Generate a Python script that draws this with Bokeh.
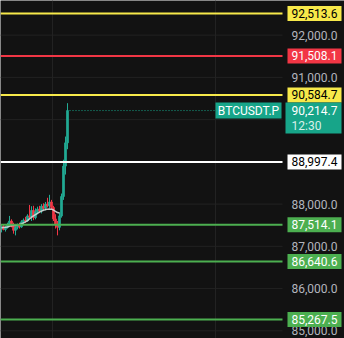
from bokeh.plotting import figure
from bokeh.models import Range1d, ColumnDataSource
from bokeh.core.properties import value
from bokeh.embed import file_html
from bokeh.resources import INLINE

# ---- data ----
opens  = [87420, 87470, 87400, 87450, 87520, 87600, 87480, 87380, 87450, 87500,
          87460, 87580, 87620, 87600, 87720, 87700, 87850, 87680, 87820, 87880,
          87840, 87950, 87900, 88000, 87960, 88050, 87920, 87650, 87520, 87450,
          87720, 88180, 88900, 89450]
highs  = [87500, 87520, 87480, 87560, 87720, 87640, 87560, 87500, 87540, 87560,
          87620, 87660, 87700, 87760, 87980, 87950, 87960, 87900, 87940, 87960,
          88000, 88020, 88050, 88150, 88220, 88100, 87960, 87760, 87600, 87800,
          88250, 89050, 89600, 90390]
lows   = [87330, 87380, 87350, 87420, 87480, 87450, 87300, 87260, 87400, 87420,
          87440, 87520, 87560, 87580, 87660, 87600, 87620, 87640, 87760, 87800,
          87780, 87860, 87850, 87920, 87900, 87880, 87600, 87420, 87260, 87380,
          87680, 88100, 88700, 89300]
closes = [87470, 87400, 87450, 87520, 87600, 87480, 87380, 87450, 87500, 87460,
          87580, 87620, 87600, 87720, 87700, 87850, 87680, 87820, 87880, 87840,
          87950, 87900, 88000, 87960, 88050, 87920, 87650, 87520, 87450, 87720,
          88180, 88900, 89450, 90214.7]
ma_vals = [87440, 87445, 87450, 87460, 87475, 87490, 87495, 87500, 87510, 87520,
           87535, 87555, 87580, 87610, 87650, 87690, 87720, 87750, 87780, 87810,
           87835, 87855, 87870, 87880, 87885, 87880, 87860, 87830, 87800, 87790]

levels      = [92513.6, 91508.1, 90584.7, 88997.4, 87514.1, 86640.6, 85267.5]
level_fill  = ["#f7e94a", "#f23645", "#f7e94a", "#ffffff", "#4caf50", "#4caf50", "#4caf50"]
level_text  = ["#000000", "#ffffff", "#000000", "#000000", "#ffffff", "#ffffff", "#ffffff"]
tick_values = [92000, 91000, 90000, 89000, 88000, 87000, 86000, 85000]
last_price  = 90214.7
symbol      = "BTCUSDT.P"
countdown   = "12:30"

# ---- layout constants ----
W, H = 344, 338
YMIN, YMAX = 84818, 92821
PPX = (YMAX - YMIN) / H      # price per pixel
X_END = 141                  # plot area end (units, 2 px each)
TAG_L, TAG_R = 143.5, 170.5
TXT_X = 168.5
BG = "#121212"
UP, DOWN = "#22ab94", "#f23645"
TEAL = "#17a589"
FONT = value("Roboto")

p = figure(width=W, height=H, output_backend="svg", toolbar_location=None,
           x_range=Range1d(0, W / 2), y_range=Range1d(YMIN, YMAX),
           x_axis_location=None, y_axis_location=None, min_border=0,
           background_fill_color=BG, border_fill_color=BG, outline_line_color=None)
p.grid.grid_line_color = None

# grid
p.segment(x0=[0] * len(tick_values), x1=[X_END] * len(tick_values),
          y0=tick_values, y1=tick_values, line_color="#222222", line_width=1)
p.segment(x0=[26, 107.5], x1=[26, 107.5], y0=[YMIN, YMIN], y1=[YMAX, YMAX],
          line_color="#222222", line_width=1)

# candles
xs = [i + 0.5 for i in range(len(opens))]
cols = [UP if c >= o else DOWN for o, c in zip(opens, closes)]
src = ColumnDataSource(dict(x=xs, o=opens, h=highs, l=lows, c=closes, col=cols,
                            top=[max(o, c) for o, c in zip(opens, closes)],
                            bot=[min(o, c) for o, c in zip(opens, closes)]))
p.segment(x0="x", x1="x", y0="l", y1="h", line_color="col", line_width=1, source=src)
p.vbar(x="x", width=0.8, top="top", bottom="bot", fill_color="col", line_color="col", source=src)
p.line(xs[:len(ma_vals)], ma_vals, line_color="#d8d8d8", line_width=1.5, line_alpha=0.9)

# last price dotted line
p.segment(x0=[xs[-1] + 1], x1=[107.5], y0=[last_price], y1=[last_price],
          line_color=TEAL, line_width=1, line_dash="1 2")

# level lines
p.segment(x0=[0] * len(levels), x1=[X_END] * len(levels), y0=levels, y1=levels,
          line_color=level_fill, line_width=2)

# axis tick labels
p.text(x=[TXT_X] * len(tick_values), y=tick_values,
       text=[f"{v:,.1f}" for v in tick_values], text_color="#b2b5be",
       text_font=FONT, text_font_size="12px", text_align="right", text_baseline="middle")

# level tags
hh = 7.5 * PPX
p.quad(left=[TAG_L] * len(levels), right=[TAG_R] * len(levels),
       top=[v + hh for v in levels], bottom=[v - hh for v in levels],
       fill_color=level_fill, line_color=None)
p.text(x=[TXT_X] * len(levels), y=levels, text=[f"{v:,.1f}" for v in levels],
       text_color=level_text, text_font=FONT, text_font_size="12px",
       text_align="right", text_baseline="middle")

# current price tag (two lines)
p.quad(left=[TAG_L - 1], right=[TAG_R], top=[last_price + 8 * PPX],
       bottom=[last_price - 23 * PPX], fill_color=TEAL, line_color=None)
p.text(x=[TXT_X], y=[last_price], text=[f"{last_price:,.1f}"], text_color="#ffffff",
       text_font=FONT, text_font_size="12px", text_align="right", text_baseline="middle")
p.text(x=[TXT_X - 8], y=[last_price - 15 * PPX], text=[countdown], text_color="#d8f0ea",
       text_font=FONT, text_font_size="12px", text_align="right", text_baseline="middle")

# symbol tag
p.quad(left=[107.5], right=[140.5], top=[last_price + 8 * PPX],
       bottom=[last_price - 8 * PPX], fill_color=TEAL, line_color=None)
p.text(x=[124], y=[last_price], text=[symbol], text_color="#ffffff",
       text_font=FONT, text_font_size="12px", text_align="center", text_baseline="middle")

open("out.html", "w").write(file_html(p, INLINE))
